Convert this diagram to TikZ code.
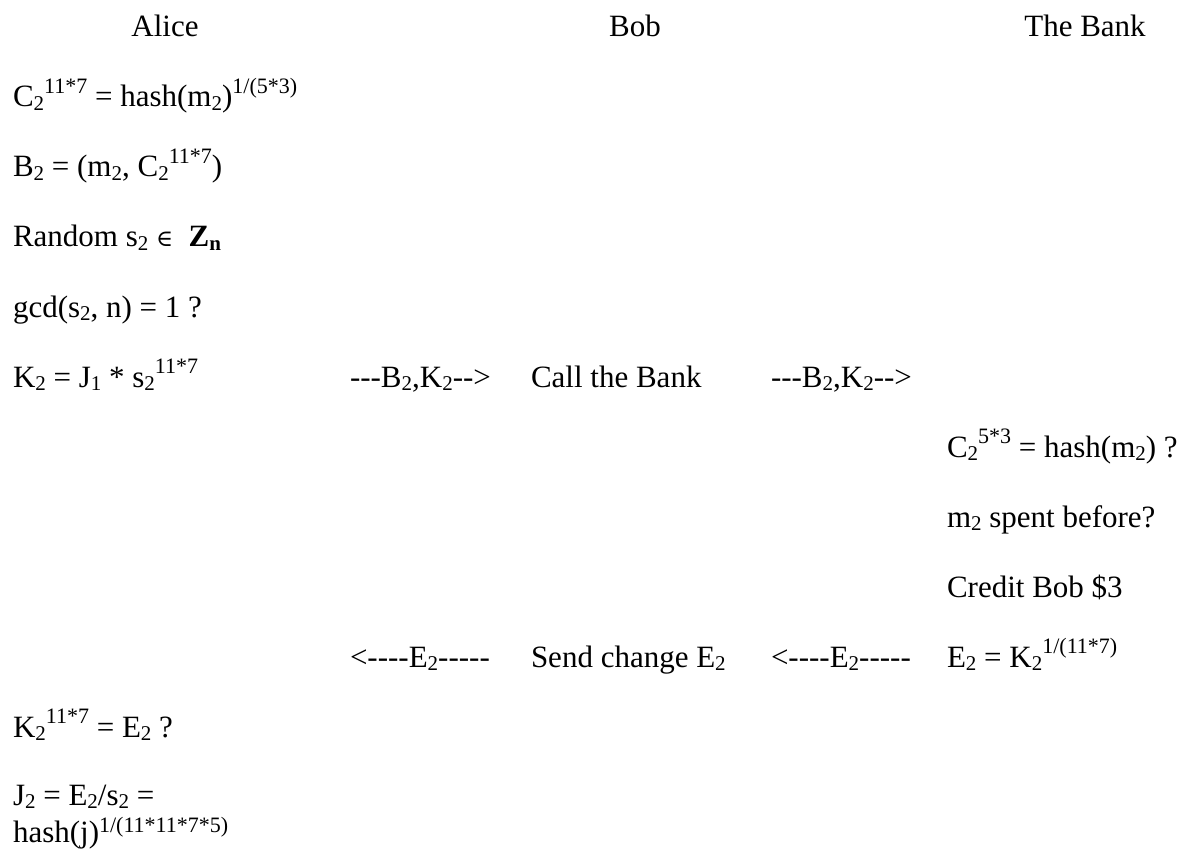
\documentclass[tikz,border=0pt]{standalone}
\usepackage{fontspec}
\setmainfont{Liberation Serif}[Ligatures=TeXOff]
\newfontfamily\symfont{DejaVu Serif}
\newcommand\mysub[1]{\raisebox{-0.12em}{\fontsize{21}{21}\selectfont #1}}
\newcommand\mysup[1]{\raisebox{0.42em}{\fontsize{22}{22}\selectfont #1}}
\newcommand\mylowsup[1]{\raisebox{0.32em}{\fontsize{22}{22}\selectfont #1}}
\newcommand\elem{{\symfont\fontsize{23}{23}\selectfont ∈}}
\tikzset{
  txt/.style={inner sep=0pt, outer sep=0pt, anchor=base west, font=\fontsize{31}{36}\selectfont},
  head/.style={txt, anchor=base}
}
\begin{document}
\begin{tikzpicture}[x=1pt,y=-1pt]
\useasboundingbox (0,0) rectangle (1182,850);
% headers
\node[head] (alice) at (165,37) {Alice};
\node[head] (bob) at (635,37) {Bob};
\node[head] (bank) at (1085,37) {The Bank};
% Alice column
\node[txt] (a1) at (13,107) {C\mysub{2}\mysup{11*7} = hash(m\mysub{2})\mysup{1/(5*3)}};
\node[txt] (a2) at (13,177) {B\mysub{2} = (m\mysub{2}, C\mysub{2}\mysup{11*7})};
\node[txt] (a3) at (13,247) {Random s\mysub{2} \elem\ \ \textbf{Z\mysub{n}}};
\node[txt] (a4) at (13,317) {gcd(s\mysub{2}, n) = 1 ?};
\node[txt] (a5) at (13,387) {K\mysub{2} = J\mysub{1} * s\mysub{2}\mysup{11*7}};
% send row
\node[txt] (m1) at (350,387) {---B\mysub{2},K\mysub{2}-->};
\node[txt] (b1) at (531,387) {Call the Bank};
\node[txt] (m2) at (771,387) {---B\mysub{2},K\mysub{2}-->};
% Bank column
\node[txt] (k1) at (947,457) {C\mysub{2}\mysup{5*3} = hash(m\mysub{2}) ?};
\node[txt] (k2) at (947,527) {m\mysub{2} spent before?};
\node[txt] (k3) at (947,597) {Credit Bob \$3};
\node[txt] (k4) at (947,667) {E\mysub{2} = K\mysub{2}\mysup{1/(11*7)}};
% return row
\node[txt] (m3) at (350,667) {<----E\mysub{2}-----};
\node[txt] (b2) at (531,667) {Send change E\mysub{2}};
\node[txt] (m4) at (771,667) {<----E\mysub{2}-----};
% Alice final
\node[txt] (a6) at (13,737) {K\mysub{2}\mysup{11*7} = E\mysub{2} ?};
\node[txt] (a7) at (13,805) {J\mysub{2} = E\mysub{2}/s\mysub{2} =};
\node[txt] (a8) at (13,842) {hash(j)\mylowsup{1/(11*11*7*5)}};
\end{tikzpicture}
\end{document}
